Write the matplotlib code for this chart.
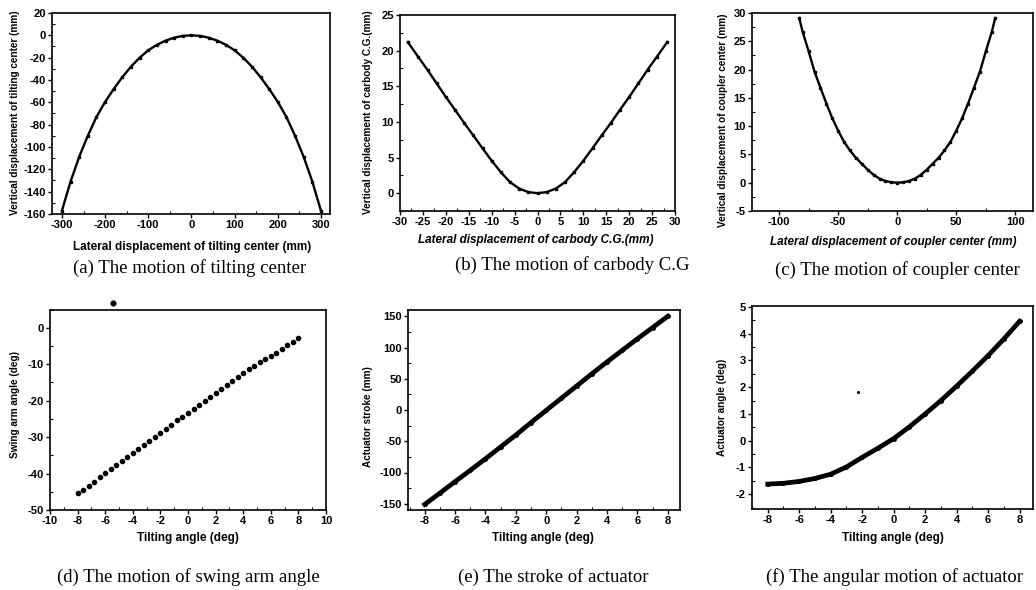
import matplotlib
matplotlib.use("Agg")
import matplotlib.pyplot as plt
from matplotlib.ticker import MultipleLocator

plt.rcParams['axes.unicode_minus'] = False
plt.rcParams['font.family'] = ['Liberation Sans', 'DejaVu Sans']

# (a) tilting center
x_a = [-300, -280, -260, -240, -220, -200, -180, -160, -140, -120, -100, -80, -60, -40, -20, 0,
       20, 40, 60, 80, 100, 120, 140, 160, 180, 200, 220, 240, 260, 280, 300]
y_a = [-157.0, -130.9, -108.8, -89.9, -73.1, -59.6, -48.0, -37.4, -28.0, -20.0, -13.4, -8.5, -4.8, -2.1, -0.5, 0.0,
       -0.5, -2.1, -4.8, -8.5, -13.4, -20.0, -28.0, -37.4, -48.0, -59.6, -73.1, -89.9, -108.8, -130.9, -157.0]

# (b) carbody C.G.
x_b = [-28.3, -26, -24, -22, -20, -18, -16, -14, -12, -10, -8, -6, -4, -2, 0,
       2, 4, 6, 8, 10, 12, 14, 16, 18, 20, 22, 24, 26, 28.3]
y_b = [21.2, 19.1, 17.3, 15.4, 13.5, 11.7, 9.85, 8.1, 6.3, 4.55, 2.95, 1.55, 0.65, 0.15, 0.0,
       0.15, 0.65, 1.55, 2.95, 4.55, 6.3, 8.1, 9.85, 11.7, 13.5, 15.4, 17.3, 19.1, 21.2]

# (c) coupler center
x_c = [-83, -80, -75, -70, -65, -60, -55, -50, -45, -40, -35, -30, -25, -20, -15, -10, -5, 0,
       5, 10, 15, 20, 25, 30, 35, 40, 45, 50, 55, 60, 65, 70, 75, 80, 83]
y_c = [29.1, 26.6, 23.2, 19.6, 16.8, 14.0, 11.4, 9.2, 7.2, 5.7, 4.4, 3.35, 2.3, 1.4, 0.72, 0.3, 0.08, 0.0,
       0.08, 0.3, 0.72, 1.4, 2.3, 3.35, 4.4, 5.7, 7.2, 9.2, 11.4, 14.0, 16.8, 19.6, 23.2, 26.6, 29.1]

# (d) swing arm angle
x_d = [-8.0, -7.6, -7.2, -6.8, -6.4, -6.0, -5.6, -5.2, -4.8, -4.4, -4.0, -3.6, -3.2, -2.8, -2.4, -2.0,
       -1.6, -1.2, -0.8, -0.4, 0.0, 0.4, 0.8, 1.2, 1.6, 2.0, 2.4, 2.8, 3.2, 3.6, 4.0, 4.4, 4.8, 5.2,
       5.6, 6.0, 6.4, 6.8, 7.2, 7.6, 8.0]
y_d = [-45.4, -44.5, -43.3, -42.2, -41.0, -39.9, -38.8, -37.6, -36.6, -35.5, -34.4, -33.2, -32.1, -31.0,
       -29.9, -28.8, -27.7, -26.6, -25.4, -24.4, -23.3, -22.2, -21.1, -20.0, -18.9, -17.8, -16.7, -15.7,
       -14.6, -13.6, -12.5, -11.4, -10.5, -9.5, -8.6, -7.8, -6.9, -5.9, -4.8, -3.8, -2.9]
stray_d = (-5.4, 6.85)

# (e) actuator stroke
x_e = [-8, -7, -6, -5, -4, -3, -2, -1, 0, 1, 2, 3, 4, 5, 6, 7, 8]
y_e = [-151, -133, -114.5, -96.5, -78, -59, -40, -20, -0.5, 19, 38.5, 58, 77, 95.5, 114, 132, 150]

# (f) actuator angle
x_f = [-8, -7, -6, -5, -4, -3, -2, -1, 0, 1, 2, 3, 4, 5, 6, 7, 8]
y_f = [-1.62, -1.59, -1.52, -1.41, -1.25, -0.98, -0.62, -0.28, 0.08, 0.52, 1.0, 1.5, 2.04, 2.6, 3.18, 3.8, 4.46]
stray_f = (-2.29, 1.83)

W, H = 1036, 590
fig = plt.figure(figsize=(W / 100, H / 100), dpi=100)


def box(l, r, t, b):
    return [l / W, 1 - b / H, (r - l) / W, (b - t) / H]


def style(ax, xlim, ylim, xmaj, xmin, ymaj, ymin):
    ax.set_xlim(*xlim)
    ax.set_ylim(*ylim)
    ax.xaxis.set_major_locator(MultipleLocator(xmaj))
    ax.xaxis.set_minor_locator(MultipleLocator(xmin))
    ax.yaxis.set_major_locator(MultipleLocator(ymaj))
    ax.yaxis.set_minor_locator(MultipleLocator(ymin))
    ax.tick_params(which='major', direction='out', length=3, width=1, labelsize=8, pad=1.5)
    ax.tick_params(which='minor', direction='in', length=2, width=0.8)
    for lab in ax.get_xticklabels() + ax.get_yticklabels():
        lab.set_fontweight('bold')
    for s in ax.spines.values():
        s.set_linewidth(1.2)


def label(x, y, txt, rot=0, size=8.5, italic=False):
    fig.text(x / W, 1 - y / H, txt, rotation=rot, ha='center', va='center', fontsize=size,
             fontweight='bold', style='italic' if italic else 'normal')


def caption(x, y, txt):
    fig.text(x / W, 1 - y / H, txt, ha='center', va='center', fontsize=13.5, family='Liberation Serif')


YS = 7.2

ax = fig.add_axes(box(52, 330, 13, 214))
ax.plot(x_a, y_a, color='black', lw=1.7, marker='s', ms=2)
style(ax, (-323, 321), (-160, 20), 100, 50, 20, 10)
label(192, 247, 'Lateral displacement of tilting center (mm)')
label(15, 113, 'Vertical displacement of tilting center (mm)', rot=90, size=YS)
caption(190, 268, '(a) The motion of tilting center')

ax = fig.add_axes(box(400, 675, 15, 211))
ax.plot(x_b, y_b, color='black', lw=1.7, marker='s', ms=2)
style(ax, (-30, 30), (-2.5, 25), 5, 2.5, 5, 2.5)
label(536, 240, 'Lateral displacement of carbody C.G.(mm)', italic=True)
label(368, 112, 'Vertical displacement of carbody C.G.(mm)', rot=90, size=YS)
caption(572, 265, '(b) The motion of carbody C.G')

ax = fig.add_axes(box(752, 1033, 13, 211))
ax.plot(x_c, y_c, color='black', lw=1.7, marker='s', ms=2)
style(ax, (-123, 115), (-5, 30), 50, 25, 5, 2.5)
label(893, 242, 'Lateral displacement of coupler center (mm)', italic=True)
label(723, 120, 'Vertical displacement of coupler center (mm)', rot=90, size=YS)
caption(897, 270, '(c) The motion of coupler center')

ax = fig.add_axes(box(50, 326, 309.5, 510))
ax.plot(x_d, y_d, 'o', color='black', ms=3)
ax.plot(*stray_d, 'o', color='black', ms=3.4, clip_on=False)
style(ax, (-10, 10), (-50, 5), 2, 1, 10, 5)
label(188, 538, 'Tilting angle (deg)')
label(15, 405, 'Swing arm angle (deg)', rot=90, size=YS)
caption(188, 577, '(d) The motion of swing arm angle')

ax = fig.add_axes(box(408, 680, 310, 510))
ax.plot(x_e, y_e, color='black', lw=3.4, marker='o', ms=2.5)
style(ax, (-9.1, 8.8), (-160, 160), 2, 1, 50, 25)
label(543, 538, 'Tilting angle (deg)')
label(368, 417, 'Actuator stroke (mm)', rot=90, size=YS)
caption(553, 577, '(e) The stroke of actuator')

ax = fig.add_axes(box(752, 1033, 306, 509))
ax.plot(x_f, y_f, color='black', lw=3.4, marker='o', ms=2.5)
ax.plot(*stray_f, 'o', color='black', ms=1.2)
style(ax, (-9, 8.85), (-2.55, 5.03), 2, 1, 1, 0.5)
label(893, 538, 'Tilting angle (deg)')
label(722, 407, 'Actuator angle (deg)', rot=90, size=YS)
caption(895, 577, '(f) The angular motion of actuator')

fig.savefig('out.png', dpi=100, facecolor='white')
